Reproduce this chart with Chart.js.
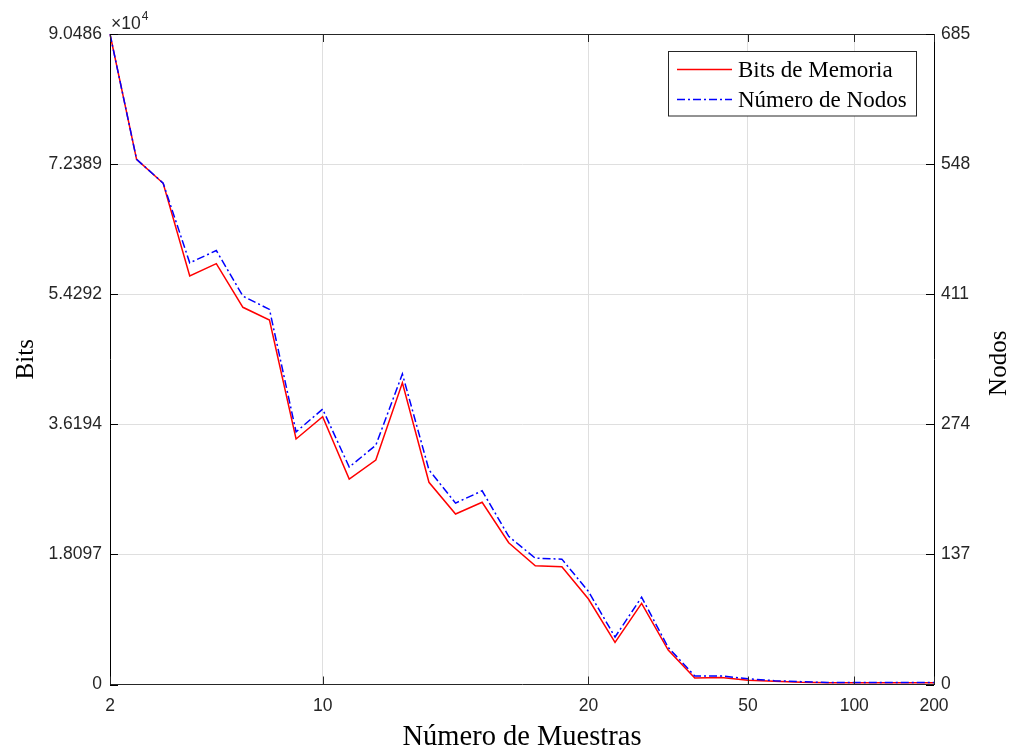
<!DOCTYPE html>
<html>
<head>
<meta charset="utf-8">
<script src="https://cdn.jsdelivr.net/npm/chart.js@4"></script>
<style>
  html, body { margin: 0; padding: 0; background: #ffffff; }
  #wrap { width: 1012px; height: 753px; position: relative; }
</style>
</head>
<body>
<div id="wrap"><canvas id="c" width="1012" height="753"></canvas></div>
<script>
// ---- data ----
const muestras = [2,3,4,5,6,7,8,9,10,11,12,13,14,15,16,17,18,19,20,25,30,35,40,45,50,60,70,80,100,125,150,200];
const bitsMemoria = [90486,73057,69719,56823,58535,52470,50703,34150,37252,28586,31229,41981,28127,23717,25345,19725,16525,16386,11893,5870,11295,4799,904,974,584,445,306,250,236,236,236,236];
const numeroNodos = [685,553,528,444,457,409,395,266,290,229,252,327,226,191,204,156,133,132,98,50,92,39,9,9,6,4,3,2,2,2,2,2];
const xTickLabels = [2,10,20,50,100,200];
const bitsTicks = [0,18097.2,36194.4,54291.6,72388.8,90486];
const nodosTicks = [0,137,274,411,548,685];

const TICK_FONT = { family: "'Liberation Sans', Arial, sans-serif", size: 17.5 };
const SERIF = "'Liberation Serif', 'Times New Roman', serif";
const GRID = '#dfdfdf';
const AXGRAY = '#262626';

const decorPlugin = {
  id: 'decor',
  afterDatasetsDraw(chart) {
    const ctx = chart.ctx;
    const a = chart.chartArea;
    const xs = chart.scales.x, yl = chart.scales.yL, yr = chart.scales.yR;
    ctx.save();
    // top frame line
    ctx.strokeStyle = AXGRAY; ctx.lineWidth = 1;
    ctx.beginPath(); ctx.moveTo(a.left, a.top + 0.5); ctx.lineTo(a.right, a.top + 0.5); ctx.stroke();
    // inward x ticks (bottom and top)
    const TL = 8;
    xs.ticks.forEach(t => {
      const px = Math.round(xs.getPixelForValue(t.value)) + 0.5;
      ctx.beginPath();
      ctx.moveTo(px, a.bottom); ctx.lineTo(px, a.bottom - TL);
      ctx.moveTo(px, a.top); ctx.lineTo(px, a.top + TL);
      ctx.stroke();
    });
    // inward y ticks
    ctx.strokeStyle = '#000000';
    yl.ticks.forEach(t => {
      const py = Math.round(yl.getPixelForValue(t.value)) + 0.5;
      ctx.beginPath(); ctx.moveTo(a.left, py); ctx.lineTo(a.left + TL, py); ctx.stroke();
    });
    yr.ticks.forEach(t => {
      const py = Math.round(yr.getPixelForValue(t.value)) + 0.5;
      ctx.beginPath(); ctx.moveTo(a.right, py); ctx.lineTo(a.right - TL, py); ctx.stroke();
    });
    // exponent label
    ctx.fillStyle = AXGRAY;
    ctx.textBaseline = 'alphabetic';
    ctx.textAlign = 'left';
    ctx.font = "17.5px 'Liberation Sans', Arial, sans-serif";
    ctx.fillText('\u00d710', a.left + 1, a.top - 5);
    const w = ctx.measureText('\u00d710').width;
    ctx.font = "12px 'Liberation Sans', Arial, sans-serif";
    ctx.fillText('4', a.left + 1 + w + 1, a.top - 14);
    // right axis title (reads bottom-to-top)
    ctx.save();
    ctx.translate(999, (a.top + a.bottom) / 2 + 4);
    ctx.rotate(-Math.PI / 2);
    ctx.textAlign = 'center'; ctx.textBaseline = 'middle';
    ctx.fillStyle = '#000000';
    ctx.font = "25px " + SERIF;
    ctx.fillText('Nodos', 0, 0);
    ctx.restore();
    // legend box
    const lx = 668.5, ly = 51.5, lw = 248, lh = 64.5;
    ctx.fillStyle = '#ffffff';
    ctx.fillRect(lx, ly, lw, lh);
    ctx.strokeStyle = '#262626'; ctx.lineWidth = 1;
    ctx.strokeRect(lx, ly, lw, lh);
    const items = chart.data.datasets;
    const rows = [69.5, 99.5];
    items.forEach((ds, i) => {
      ctx.save();
      ctx.strokeStyle = ds.borderColor; ctx.lineWidth = ds.borderWidth;
      ctx.setLineDash(ds.borderDash || []);
      ctx.beginPath(); ctx.moveTo(677, rows[i]); ctx.lineTo(732, rows[i]); ctx.stroke();
      ctx.restore();
      ctx.fillStyle = '#000000';
      ctx.font = "23px " + SERIF;
      ctx.textAlign = 'left'; ctx.textBaseline = 'middle';
      ctx.fillText(ds.label, 738, rows[i] + 1);
    });
    ctx.restore();
  }
};

new Chart(document.getElementById('c'), {
  type: 'line',
  data: {
    labels: muestras,
    datasets: [
      { label: 'Bits de Memoria', data: bitsMemoria, yAxisID: 'yL', borderColor: '#ff0000', borderWidth: 1.5,
        pointRadius: 0, tension: 0, fill: false, order: 2 },
      { label: 'Número de Nodos', data: numeroNodos, yAxisID: 'yR', borderColor: '#0000ff', borderWidth: 1.5,
        borderDash: [8, 3, 2, 3], pointRadius: 0, tension: 0, fill: false, order: 1 }
    ]
  },
  options: {
    responsive: false,
    animation: false,
    events: [],
    layout: { padding: { top: 34, left: 0, right: 0, bottom: 0 } },
    plugins: { legend: { display: false }, tooltip: { enabled: false } },
    scales: {
      x: {
        type: 'category',
        offset: false,
        afterBuildTicks: (s) => { s.ticks = s.ticks.filter(t => xTickLabels.includes(muestras[t.value])); },
        afterFit: (s) => { s.height = 68.5; },
        ticks: { autoSkip: false, maxRotation: 0, color: AXGRAY, font: TICK_FONT, padding: 11 },
        grid: { color: GRID, lineWidth: 1, drawTicks: false },
        border: { color: AXGRAY, width: 1 },
        title: { display: true, text: 'Número de Muestras', color: '#000000',
                 font: { family: SERIF, size: 28.5 }, padding: { top: 0, bottom: -2 } }
      },
      yL: {
        type: 'linear', position: 'left', min: 0, max: 90486,
        afterBuildTicks: (s) => { s.ticks = bitsTicks.map(v => ({ value: v })); },
        afterFit: (s) => { s.width = 110; },
        ticks: { color: AXGRAY, font: TICK_FONT, padding: 8,
                 callback: (v) => v === 0 ? '0' : (v / 1e4).toFixed(4) },
        grid: { color: GRID, lineWidth: 1, drawTicks: false },
        border: { color: '#000000', width: 1 },
        title: { display: true, text: 'Bits', color: '#000000',
                 font: { family: SERIF, size: 25 }, padding: { top: 11, bottom: 0 } }
      },
      yR: {
        type: 'linear', position: 'right', min: 0, max: 685,
        afterBuildTicks: (s) => { s.ticks = nodosTicks.map(v => ({ value: v })); },
        afterFit: (s) => { s.width = 78; },
        ticks: { color: AXGRAY, font: TICK_FONT, padding: 7 },
        grid: { drawOnChartArea: false, drawTicks: false },
        border: { color: '#000000', width: 1 }
      }
    }
  },
  plugins: [decorPlugin]
});
</script>
</body>
</html>
